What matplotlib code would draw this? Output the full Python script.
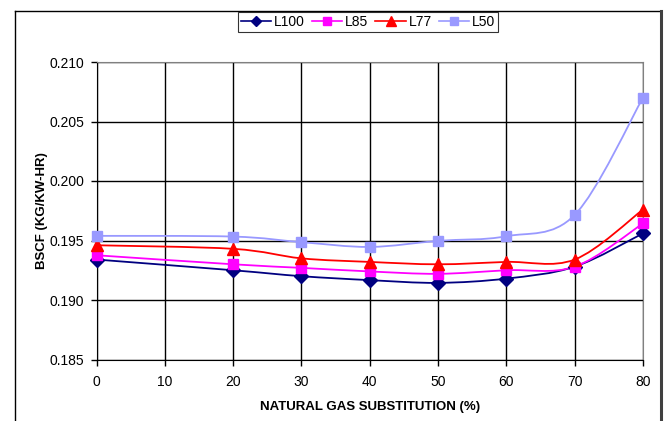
import matplotlib
matplotlib.use("Agg")
import matplotlib.pyplot as plt
from matplotlib.path import Path
from matplotlib.patches import PathPatch
from matplotlib.lines import Line2D
import numpy as np

plt.rcParams['font.family'] = ['Liberation Sans', 'DejaVu Sans']

substitution = [0, 20, 30, 40, 50, 60, 70, 80]
L100 = [0.1934, 0.1925, 0.1920, 0.19167, 0.19144, 0.1918, 0.1928, 0.1956]
L85 = [0.19376, 0.1930, 0.1927, 0.1924, 0.1922, 0.1925, 0.1928, 0.19643]
L77 = [0.1946, 0.1943, 0.1935, 0.1932, 0.1930, 0.1932, 0.1934, 0.1976]
L50 = [0.19539, 0.19533, 0.19486, 0.19446, 0.19497, 0.19536, 0.19715, 0.2070]

series = [
    ("L100", L100, "#000080", "D", 7),
    ("L85", L85, "#FF00FF", "s", 7),
    ("L77", L77, "#FF0000", "^", 8),
    ("L50", L50, "#9999FF", "s", 7),
]

xticks = [0, 10, 20, 30, 40, 50, 60, 70, 80]
yticks = [0.185, 0.190, 0.195, 0.200, 0.205, 0.210]


def smooth_path(xs, ys):
    pts = np.column_stack([xs, ys]).astype(float)
    n = len(pts)
    verts = [pts[0]]
    codes = [Path.MOVETO]
    for i in range(n - 1):
        p0 = pts[i - 1] if i > 0 else pts[i]
        p1 = pts[i]
        p2 = pts[i + 1]
        p3 = pts[i + 2] if i + 2 < n else pts[i + 1]
        c1 = p1 + (p2 - p0) / 6.0
        c2 = p2 - (p3 - p1) / 6.0
        verts += [c1, c2, p2]
        codes += [Path.CURVE4] * 3
    return Path(verts, codes)


fig = plt.figure(figsize=(6.67, 4.21), dpi=100)
ax = fig.add_axes([96.5 / 667, 1 - 359.5 / 421, (643 - 96.5) / 667, (359.5 - 62) / 421])

handles = []
for name, vals, col, mk, ms in series:
    p = smooth_path(substitution, vals)
    ax.add_patch(PathPatch(p, facecolor='none', edgecolor=col, lw=1.3, zorder=3,
                           clip_on=False))
    ax.plot(substitution, vals, linestyle='none', marker=mk, markersize=ms,
            color=col, markeredgecolor=col, zorder=4, clip_on=False)
    handles.append(Line2D([0], [0], color=col, lw=1.2, marker=mk, markersize=ms - 1.5,
                          markeredgecolor=col))

ax.set_xlim(0, 80)
ax.set_ylim(0.185, 0.210)
ax.set_xticks(xticks)
ax.set_yticks(yticks)
ax.set_yticklabels([f"{v:.3f}" for v in yticks])
ax.grid(True, color='black', lw=1.0, zorder=1)
ax.set_axisbelow(True)
ax.tick_params(axis='both', labelsize=10, direction='out', length=4, width=1, color='black')
ax.tick_params(axis='x', pad=7)
ax.tick_params(axis='y', pad=5)
for s in ['top', 'right']:
    ax.spines[s].set_color('#808080')
for s in ['left', 'bottom']:
    ax.spines[s].set_color('black')

ax.set_xlabel("NATURAL GAS SUBSTITUTION (%)", fontsize=9.5, fontweight='bold', labelpad=9)
ax.set_ylabel("BSCF (KG/KW-HR)", fontsize=9.5, fontweight='bold', labelpad=1)

leg = fig.legend(handles, [s[0] for s in series], loc='center',
                 bbox_to_anchor=(368 / 667, 1 - 22 / 421), ncol=4, fontsize=10,
                 frameon=True, fancybox=False, edgecolor='black', handlelength=2.2,
                 handletextpad=0.2, columnspacing=0.5, borderpad=0.22, borderaxespad=0)
leg.get_frame().set_linewidth(0.8)

# outer chart border
fig.add_artist(Line2D([14.5 / 667, 14.5 / 667], [0, 1 - 10.5 / 421], transform=fig.transFigure,
                      color='black', lw=1.0))
fig.add_artist(Line2D([14.5 / 667, 661 / 667], [1 - 10.5 / 421, 1 - 10.5 / 421],
                      transform=fig.transFigure, color='black', lw=1.0))
fig.add_artist(Line2D([661 / 667, 661 / 667], [0, 1 - 10.5 / 421], transform=fig.transFigure,
                      color='#404040', lw=2.2))

fig.savefig("out.png", dpi=100)
